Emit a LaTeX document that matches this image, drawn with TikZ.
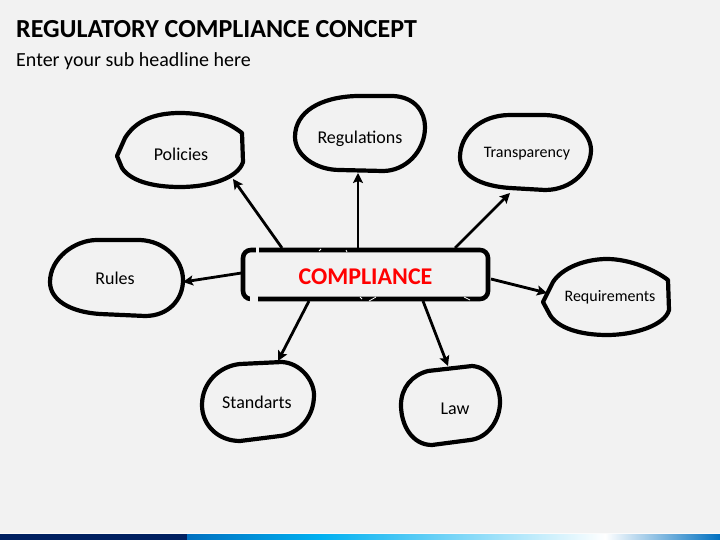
\documentclass[tikz,border=0pt]{standalone}
\usepackage{fontspec}
\setmainfont{Carlito}
\usetikzlibrary{arrows.meta}
\definecolor{pagebg}{HTML}{F2F2F2}
\definecolor{navy}{HTML}{002060}
\definecolor{blueA}{HTML}{0070C0}
\definecolor{blueB}{HTML}{00B0F0}
\tikzset{
  blob/.style={draw=black,line width=4.2pt,line join=round,fill=none},
  lbl/.style={inner sep=0pt,text=black,font=\fontsize{18}{20}\selectfont},
  lblsmall/.style={inner sep=0pt,text=black,font=\fontsize{16}{18}\selectfont},
  hubbox/.style={draw=black,line width=4.6pt,rounded corners=8pt,minimum width=245pt,minimum height=49pt,inner sep=0pt,text=red,font=\fontsize{24}{26}\selectfont\bfseries},
  link/.style={draw=black,line width=2.8pt,-{Stealth[length=10pt,width=10pt,inset=2pt]}},
  hdr/.style={anchor=west,inner sep=0pt,text=black},
  nick/.style={draw=white,line width=0.8pt}
}
\begin{document}
\begin{tikzpicture}[x=1pt,y=-1pt]
\useasboundingbox (0,0) rectangle (720,540);
\fill[pagebg] (0,0) rectangle (720,540);
% footer band
\fill[white!70!pagebg] (0,533) rectangle (720,534);
\fill[navy] (0,534) rectangle (187,540);
\shade[left color=blueA,right color=blueB] (187,534) rectangle (320,540);
\shade[left color=blueB,right color=white] (320,534) rectangle (605,540);
\shade[left color=white,right color=blueA] (605,534) rectangle (720,540);
% titles
\node[hdr,font=\fontsize{26}{28}\selectfont\bfseries] (title) at (16,29) {REGULATORY COMPLIANCE CONCEPT};
\node[hdr,font=\fontsize{20}{22}\selectfont] (subtitle) at (16,61) {Enter your sub headline here};
% blobs
\draw[blob] (117,156) -- (125,138) .. controls (135,122) and (152,113) .. (180,113) .. controls (205,113) and (225,120) .. (242,133) -- (243,162) .. controls (238,178) and (210,187) .. (180,187) .. controls (150,187) and (130,180) .. (122,168) -- cycle;
\draw[blob] (295,137) .. controls (295,112) and (320,97) .. (357,96) -- (393,96) .. controls (415,97) and (425,112) .. (425,127) .. controls (425,152) and (405,171) .. (383,171) -- (340,170) .. controls (315,170) and (295,155) .. (295,137) -- cycle;
\draw[blob] (460,157) .. controls (460,135) and (480,115) .. (510,115) -- (545,115) .. controls (575,116) and (591,135) .. (591,150) .. controls (591,170) and (572,190) .. (545,190) -- (510,188) .. controls (480,186) and (460,175) .. (460,157) -- cycle;
\draw[blob] (543,302) -- (553,282) .. controls (562,268) and (585,259) .. (607,259) .. controls (630,259) and (655,270) .. (668,280) -- (669,310) .. controls (665,325) and (635,335) .. (607,335) .. controls (580,335) and (558,328) .. (550,315) -- cycle;
\draw[blob] (50,282) .. controls (50,258) and (75,240) .. (97,240) -- (140,240) .. controls (165,241) and (183,260) .. (183,280) .. controls (183,300) and (168,316) .. (145,316) -- (100,314) .. controls (70,312) and (50,300) .. (50,282) -- cycle;
\draw[blob] (202,405) .. controls (202,382) and (220,366) .. (240,364) -- (282,362) .. controls (300,363) and (314,380) .. (314,395) .. controls (314,418) and (298,434) .. (280,436) -- (240,441) .. controls (218,441) and (202,425) .. (202,405) -- cycle;
\draw[blob] (401,405) .. controls (401,388) and (412,375) .. (428,371) -- (472,366) .. controls (489,367) and (500,385) .. (500,402) .. controls (500,420) and (488,438) .. (470,440) -- (432,445) .. controls (412,445) and (401,425) .. (401,405) -- cycle;
% labels
\node[lbl] (policies) at (181,154) {Policies};
\node[lbl] (regulations) at (360,139) {Regulations};
\node[lblsmall] (transparency) at (527,154) {Transparency};
\node[lblsmall] (requirements) at (610,297) {Requirements};
\node[lbl] (rules) at (115,278) {Rules};
\node[lbl] (standarts) at (257,402) {Standarts};
\node[lbl] (law) at (455,409) {Law};
% hub
\node[hubbox] (hub) at (365.5,274.5) {\raisebox{-10pt}[0pt][0pt]{COMPLIANCE}};
% gaps and nicks in hub outline
\fill[pagebg] (256,247) rectangle (259,253);
\fill[pagebg] (250,296) rectangle (258,302);
\draw[nick] (319,251) -- (321,249);
\draw[nick] (346,250) -- (347,252);
\draw[nick] (360,297) -- (362,299);
\draw[nick] (369,301) -- (376,297);
\draw[nick] (464,297) -- (470,300);
% connectors
\draw[link] ([shift={(-83.5,-26.5)}]hub.center) -- ([shift={(52,25)}]policies.center);
\draw[link] ([shift={(-7.5,-26.5)}]hub.center) -- ([shift={(-2,34)}]regulations.center);
\draw[link] ([shift={(89.5,-26.5)}]hub.center) -- ([shift={(-17,39)}]transparency.center);
\draw[link] ([shift={(125.5,4.5)}]hub.center) -- ([shift={(-63,-4)}]requirements.center);
\draw[link] ([shift={(-124,-1.5)}]hub.center) -- ([shift={(68,4)}]rules.center);
\draw[link] ([shift={(-56.5,26.5)}]hub.center) -- ([shift={(21,-41)}]standarts.center);
\draw[link] ([shift={(57.5,26.5)}]hub.center) -- ([shift={(-7,-43)}]law.center);
\end{tikzpicture}
\end{document}
